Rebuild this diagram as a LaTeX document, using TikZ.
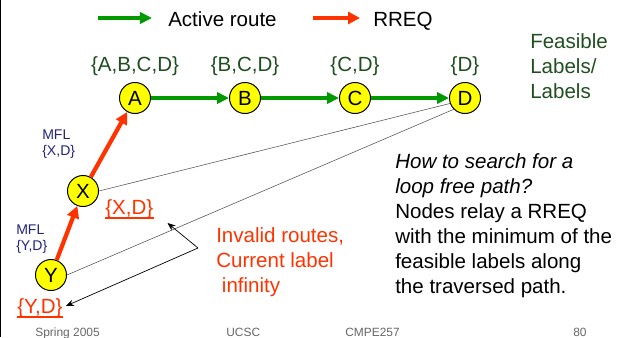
\documentclass[tikz,border=0pt]{standalone}
\usepackage{fontspec}
\setmainfont{Liberation Sans}
\usetikzlibrary{arrows.meta,positioning}
\definecolor{routeGreen}{HTML}{009900}
\definecolor{rreqRed}{HTML}{FF3300}
\definecolor{labelGreen}{HTML}{1F4F1F}
\definecolor{mflBlue}{HTML}{23237A}
\definecolor{footGray}{HTML}{666666}
\definecolor{nodeYellow}{HTML}{FFFF00}
\definecolor{lineGray}{HTML}{555555}
\newcommand{\bigfont}{\fontsize{14.6}{17.8}\selectfont}
\newcommand{\mflfont}{\fontsize{10}{11.4}\selectfont}
\newcommand{\footfont}{\fontsize{8.5}{10}\selectfont}

\begin{document}
\begin{tikzpicture}[
    x=0.025cm, y=-0.025cm,
    node distance=4pt,
    router/.style={circle, draw=black, line width=0.7pt, fill=nodeYellow, minimum size=0.775cm, inner sep=0pt, font=\bigfont},
    flabel/.style={inner sep=0pt, text=labelGreen, font=\bigfont},
    txt/.style={inner sep=0pt, align=left, font=\bigfont, anchor=north west},
    mfl/.style={inner sep=0pt, align=left, text=mflBlue, font=\mflfont, anchor=north west},
    invlabel/.style={inner sep=0pt, text=rreqRed, font=\bigfont, anchor=base west},
    foot/.style={inner sep=0pt, text=footGray, font=\footfont, anchor=base west},
    active/.style={-{Triangle[length=0.3cm, width=0.28cm]}, line width=2.2pt, draw=routeGreen},
    rreq/.style={-{Triangle[length=0.3cm, width=0.3cm]}, line width=3pt, draw=rreqRed},
    dimline/.style={draw=lineGray, line width=0.4pt},
    pointer/.style={-{Stealth[length=2mm, width=1.6mm]}, line width=0.5pt, draw=black},
    uline/.style={draw=rreqRed, line width=1.3pt}
  ]
    \useasboundingbox (0,0) rectangle (624,337);
    \draw[line width=0.7pt] (0.5,0) -- (0.5,337);

    % legend
    \coordinate (greenstart) at (98,18);
    \coordinate (greenend) at (152,18);
    \coordinate (redstart) at (313,18);
    \coordinate (redend) at (360,18);
    \draw[active] (greenstart) -- (greenend);
    \node[anchor=base west, inner sep=0pt, font=\bigfont] (activetxt) at (168,26) {Active route};
    \draw[rreq] (redstart) -- (redend);
    \node[anchor=base west, inner sep=0pt, font=\bigfont] (rreqtxt) at (373,26) {RREQ};

    % routers
    \node[router] (A) at (135,98) {A};
    \node[router] (B) at (245,98) {B};
    \node[router] (C) at (355,98) {C};
    \node[router] (D) at (465,98) {D};
    \node[router] (X) at (83,191) {X};
    \node[router] (Y) at (51,275) {Y};

    \node[flabel, above=of A] (labA) {\{A,B,C,D\}};
    \node[flabel, above=of B] (labB) {\{B,C,D\}};
    \node[flabel, above=of C] (labC) {\{C,D\}};
    \node[flabel, above=of D] (labD) {\{D\}};
    \node[txt, text=labelGreen] (feas) at (530,33) {Feasible\\Labels/\\Labels};

    % invalid routes
    \draw[dimline] (X.east) -- (D.200);
    \draw[dimline] (Y.east) -- (D.south west);

    \draw[active] (A) -- (B);
    \draw[active] (B) -- (C);
    \draw[active] (C) -- (D);
    \draw[rreq] (Y) -- (X);
    \draw[rreq] (X) -- (A);

    \node[mfl] (mflx) at (42,130) {MFL\\\{X,D\}};
    \node[mfl] (mfly) at (16,225) {MFL\\\{Y,D\}};

    \node[invlabel] (xd) at (105,214) {\{X,D\}};
    \node[invlabel] (yd) at (17,313) {\{Y,D\}};
    \draw[uline] ([shift={(0,4)}]xd.base west) -- ([shift={(0,4)}]xd.base east);
    \draw[uline] ([shift={(0,4)}]yd.base west) -- ([shift={(0,4)}]yd.base east);

    \node[txt, text=rreqRed] (invalid) at (216,227) {Invalid routes,\\Current label\\~infinity};
    \coordinate (fork) at (198,248);
    \draw[pointer] (fork) -- ([shift={(14,9)}]xd.base east);
    \draw[pointer] (fork) -- ([shift={(3,-7)}]yd.base east);

    \node[txt] (question) at (395,153) {\textit{How to search for a}\\\textit{loop free path?}\\Nodes relay a RREQ\\with the minimum of the\\feasible labels along\\the traversed path.};

    % footer
    \node[foot] (spring) at (35,336) {Spring 2005};
    \node[foot] (ucsc) at (226,336) {UCSC};
    \node[foot] (course) at (345,336) {CMPE257};
    \node[foot] (page) at (573,336) {80};
\end{tikzpicture}
\end{document}
